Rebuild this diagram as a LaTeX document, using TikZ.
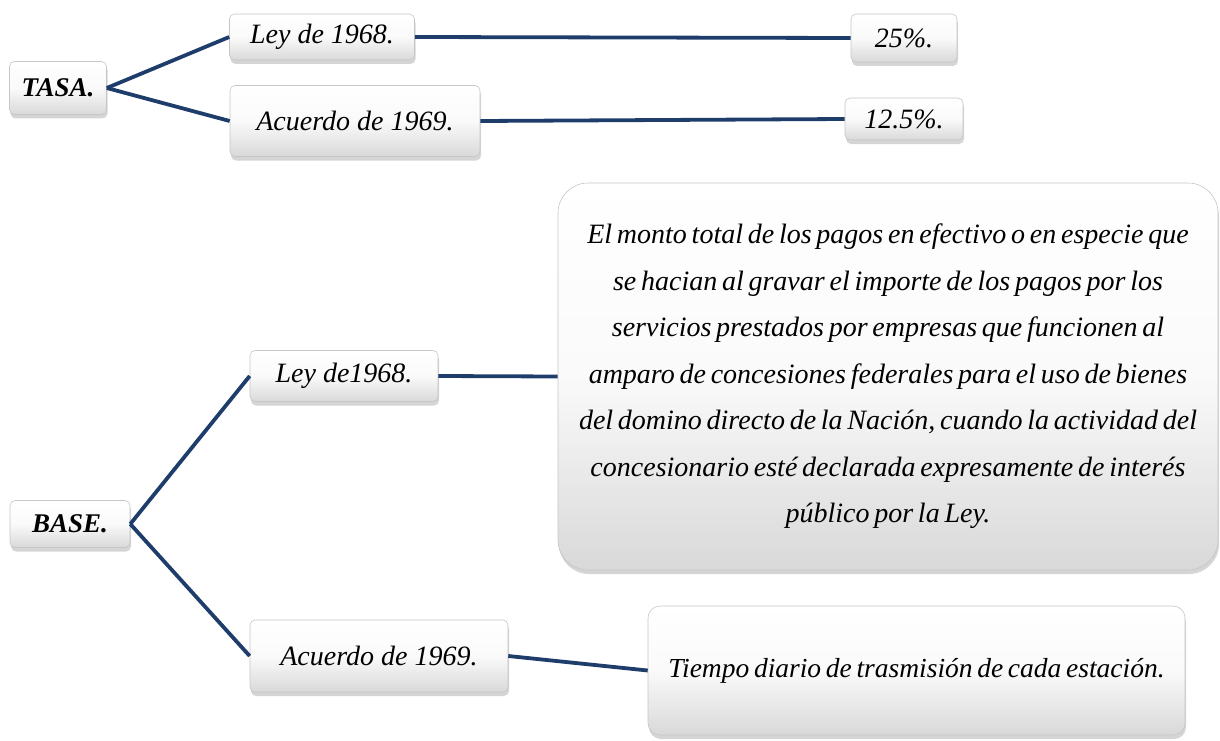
\documentclass[tikz,border=0pt]{standalone}
\usepackage{fontspec}
\setmainfont{Liberation Serif}
\usetikzlibrary{shadows}
\definecolor{navy}{HTML}{1F3D6B}
\newcommand{\tightsp}{\spaceskip=0.17em plus 0.03em minus 0.03em\relax}
\tikzset{
  box/.style={draw=gray!45, line width=0.6pt, rounded corners=5pt, top color=white, bottom color=gray!30, middle color=gray!4,
    drop shadow={shadow xshift=1pt, shadow yshift=-4pt, fill=gray!60, opacity=0.55},
    inner sep=0pt, align=center, font=\fontsize{28}{32}\selectfont\itshape},
  conn/.style={draw=navy, line width=3.8pt}
}
\begin{document}
\begin{tikzpicture}[x=1pt,y=-1pt]
\useasboundingbox (0,0) rectangle (1220,741);
\node[box, minimum width=97pt, minimum height=53pt, font=\fontsize{27}{32}\selectfont\bfseries\itshape] (tasa) at (58,88) {TASA.};
\node[box, minimum width=185pt, minimum height=46pt] (ley1) at (322,37) {Ley de 1968.};
\node[box, minimum width=250pt, minimum height=71pt] (ac1) at (355,121) {Acuerdo de 1969.};
\node[box, minimum width=106pt, minimum height=48pt] (p25) at (904,38) {25\%.};
\node[box, minimum width=118pt, minimum height=42pt] (p125) at (904,119) {12.5\%.};
\node[box, minimum width=120pt, minimum height=47pt, font=\fontsize{27}{32}\selectfont\bfseries\itshape] (base) at (70,524) {BASE.};
\node[box, minimum width=188pt, minimum height=51pt] (ley2) at (344,376) {Ley de1968.};
\node[box, minimum width=258pt, minimum height=72pt] (ac2) at (379,656) {Acuerdo de 1969.};
\node[box, rounded corners=30pt, minimum width=660pt, minimum height=387pt, text width=650pt, align=flush center, font=\fontsize{28}{46.5}\selectfont\itshape\tightsp] (def) at (888,376.5) {El monto total de los pagos en efectivo o en especie que\\ se hacian al gravar el importe de los pagos por los\\ servicios prestados por empresas que funcionen al\\ amparo de concesiones federales para el uso de bienes\\ del domino directo de la Nación, cuando la actividad del\\ concesionario esté declarada expresamente de interés\\ público por la Ley.};
\node[box, rounded corners=12pt, minimum width=537pt, minimum height=129pt, font=\fontsize{27.5}{32}\selectfont\itshape\tightsp] (tiempo) at (916.5,670.5) {Tiempo diario de trasmisión de cada estación.};
\draw[conn] (tasa.east) -- (ley1.west);
\draw[conn] (tasa.east) -- (ac1.west);
\draw[conn] (ley1.east) -- (p25.west);
\draw[conn] (ac1.east) -- (p125.west);
\draw[conn] (base.east) -- (ley2.west);
\draw[conn] (base.east) -- (ac2.west);
\draw[conn] (ley2.east) -- (def.west);
\draw[conn] (ac2.east) -- (tiempo.west);
\end{tikzpicture}
\end{document}
